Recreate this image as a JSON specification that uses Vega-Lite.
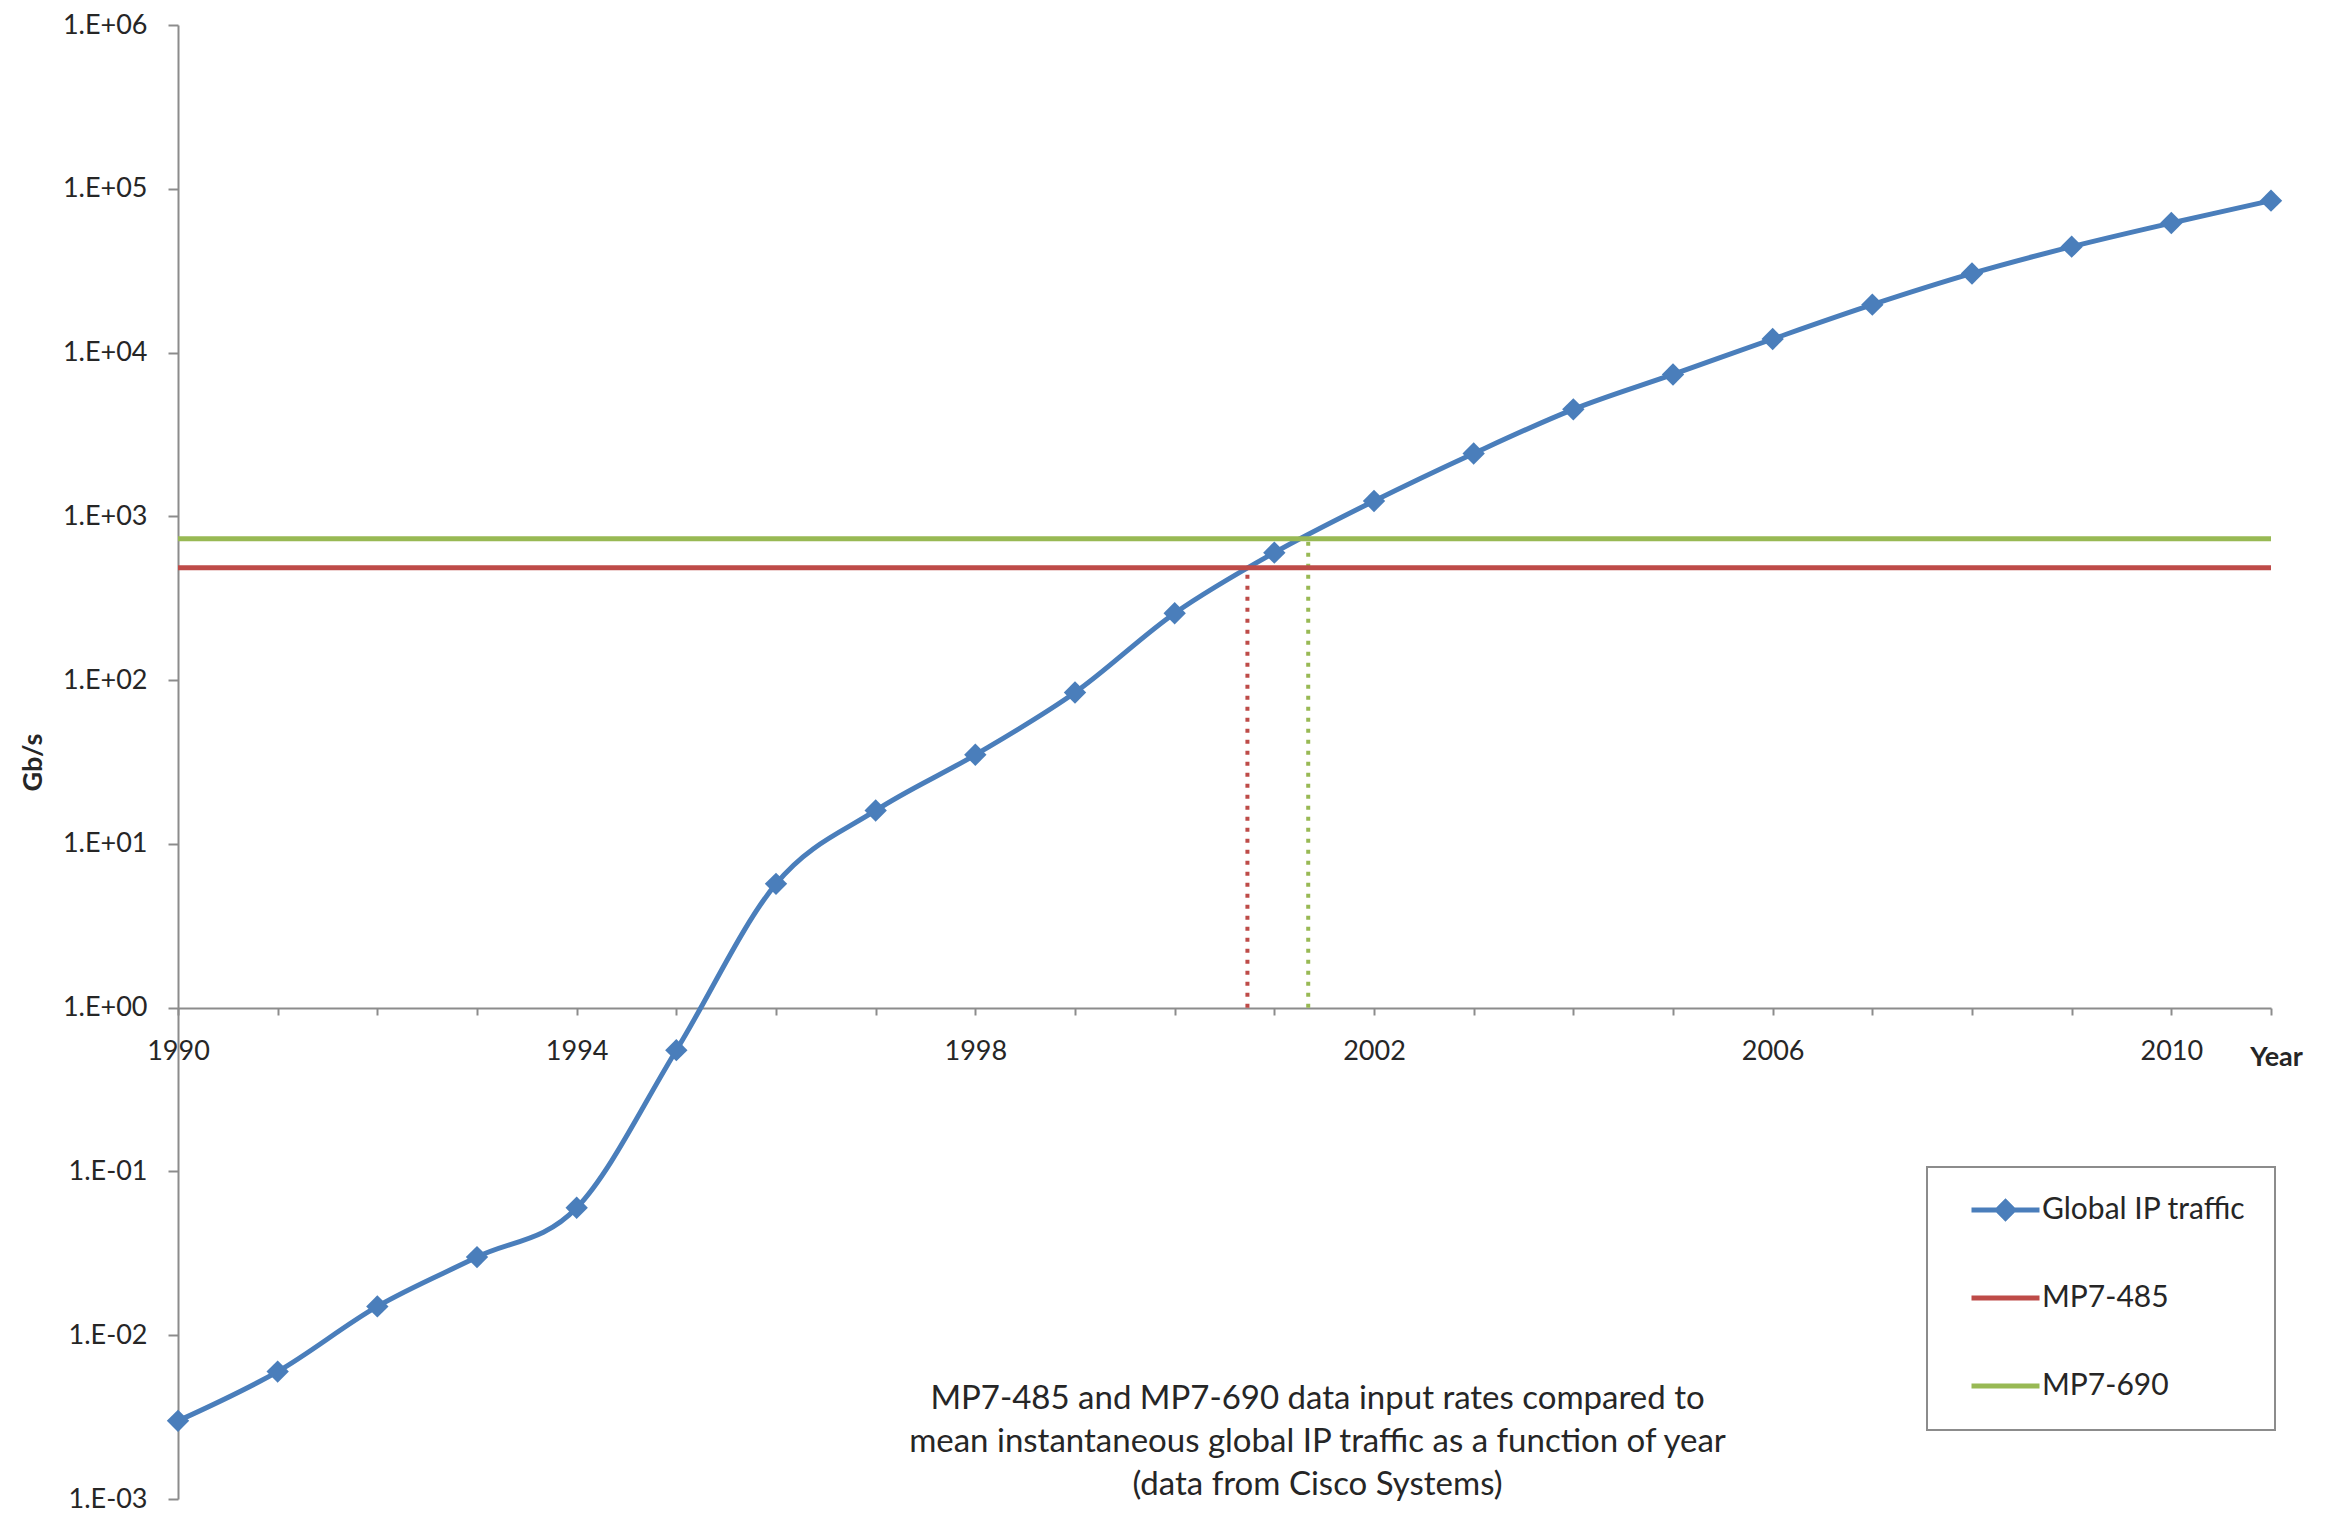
{
  "$schema": "https://vega.github.io/schema/vega-lite/v6.json",
  "width": 2093,
  "height": 1474,
  "autosize": {"type": "none"},
  "padding": {"left": 178, "top": 25, "right": 57, "bottom": 16},
  "background": "white",
  "config": {
    "font": "Lato",
    "view": {"stroke": null},
    "axis": {
      "grid": false,
      "domainColor": "#8c8c8c",
      "domainWidth": 2,
      "tickColor": "#8c8c8c",
      "tickWidth": 2,
      "labelFont": "Lato",
      "labelFontSize": 27,
      "labelColor": "#262626",
      "titleFont": "Lato",
      "titleFontSize": 27,
      "titleFontWeight": "bold",
      "titleColor": "#262626"
    }
  },
  "title": {
    "text": [
      "MP7-485 and MP7-690 data  input  rates  compared to",
      "mean instantaneous global IP traffic as a function of year",
      "(data from Cisco Systems)"
    ],
    "orient": "bottom",
    "anchor": "middle",
    "frame": "group",
    "font": "Lato",
    "fontSize": 33,
    "fontWeight": "normal",
    "lineHeight": 43,
    "color": "#262626",
    "offset": 0,
    "dx": 93,
    "dy": -129
  },
  "datasets": {
    "traffic": [
      {"series": "Global IP traffic", "year": 1990, "value": 0.003},
      {"series": "Global IP traffic", "year": 1991, "value": 0.006},
      {"series": "Global IP traffic", "year": 1992, "value": 0.015},
      {"series": "Global IP traffic", "year": 1993, "value": 0.03},
      {"series": "Global IP traffic", "year": 1994, "value": 0.06},
      {"series": "Global IP traffic", "year": 1995, "value": 0.55},
      {"series": "Global IP traffic", "year": 1996, "value": 5.7},
      {"series": "Global IP traffic", "year": 1997, "value": 16},
      {"series": "Global IP traffic", "year": 1998, "value": 35},
      {"series": "Global IP traffic", "year": 1999, "value": 84},
      {"series": "Global IP traffic", "year": 2000, "value": 256},
      {"series": "Global IP traffic", "year": 2001, "value": 600},
      {"series": "Global IP traffic", "year": 2002, "value": 1240},
      {"series": "Global IP traffic", "year": 2003, "value": 2420},
      {"series": "Global IP traffic", "year": 2004, "value": 4500},
      {"series": "Global IP traffic", "year": 2005, "value": 7350},
      {"series": "Global IP traffic", "year": 2006, "value": 12100},
      {"series": "Global IP traffic", "year": 2007, "value": 19600},
      {"series": "Global IP traffic", "year": 2008, "value": 30400},
      {"series": "Global IP traffic", "year": 2009, "value": 44300},
      {"series": "Global IP traffic", "year": 2010, "value": 61800},
      {"series": "Global IP traffic", "year": 2011, "value": 84600},
      {"series": "MP7-485", "year": 1990, "value": 485},
      {"series": "MP7-485", "year": 2011, "value": 485},
      {"series": "MP7-690", "year": 1990, "value": 730},
      {"series": "MP7-690", "year": 2011, "value": 730}
    ],
    "drops": [
      {"series": "MP7-485", "year": 2000.73, "base": 1, "value": 485},
      {"series": "MP7-690", "year": 2001.34, "base": 1, "value": 730}
    ]
  },
  "layer": [
    {
      "data": {"name": "drops"},
      "mark": {"type": "rule", "strokeDash": [4, 7], "strokeWidth": 4},
      "encoding": {
        "x": {"field": "year", "type": "quantitative", "scale": {"domain": [1990, 2011], "nice": false, "zero": false}},
        "y": {"field": "base", "type": "quantitative", "scale": {"type": "log", "domain": [0.001, 1000000], "nice": false}},
        "y2": {"field": "value"},
        "stroke": {
          "field": "series",
          "type": "nominal",
          "scale": {"domain": ["MP7-485", "MP7-690"], "range": ["#be4b48", "#98b954"]},
          "legend": null
        }
      }
    },
    {
      "data": {"name": "traffic"},
      "mark": {"type": "line", "interpolate": "cardinal", "strokeWidth": 5},
      "encoding": {
        "x": {
          "field": "year",
          "type": "quantitative",
          "scale": {"domain": [1990, 2011], "nice": false, "zero": false},
          "axis": {
            "values": [1990, 1991, 1992, 1993, 1994, 1995, 1996, 1997, 1998, 1999, 2000, 2001, 2002, 2003, 2004, 2005, 2006, 2007, 2008, 2009, 2010, 2011],
            "labelExpr": "datum.value % 4 === 2 ? format(datum.value, 'd') : ''",
            "labelFlush": false,
            "labelOverlap": false,
            "offset": -491,
            "tickSize": 7,
            "labelPadding": 23,
            "title": "Year",
            "titleX": 2098,
            "titleY": 49,
            "titleAlign": "center",
            "titleBaseline": "middle",
            "encode": {
              "ticks": {
                "update": {
                  "y": {"signal": "datum.value % 4 === 2 ? -10 : 0"},
                  "y2": {"signal": "datum.value % 4 === 2 ? 10 : 7"}
                }
              }
            }
          }
        },
        "y": {
          "field": "value",
          "type": "quantitative",
          "scale": {"type": "log", "domain": [0.001, 1000000], "nice": false},
          "axis": {
            "values": [0.001, 0.01, 0.1, 1, 10, 100, 1000, 10000, 100000, 1000000],
            "labelExpr": "'1.E' + (datum.value < 0.9 ? '-0' : '+0') + format(abs(round(log(datum.value) / LN10)), 'd')",
            "tickSize": 10,
            "labelPadding": 21,
            "labelFlush": false,
            "title": "Gb/s",
            "titleX": -145,
            "titleY": 737,
            "titleAngle": -90,
            "titleAlign": "center",
            "titleBaseline": "middle"
          }
        },
        "color": {
          "field": "series",
          "type": "nominal",
          "scale": {"domain": ["Global IP traffic", "MP7-485", "MP7-690"], "range": ["#4a7ebb", "#be4b48", "#98b954"]},
          "legend": {
            "orient": "none",
            "legendX": 1749,
            "legendY": 1142,
            "title": null,
            "padding": 29,
            "rowPadding": 58,
            "clipHeight": 28,
            "labelFont": "Lato",
            "labelFontSize": 30,
            "labelColor": "#262626",
            "labelOffset": 0,
            "labelLimit": 400,
            "symbolOffset": 13,
            "symbolSize": 4624,
            "symbolStrokeWidth": 5,
            "strokeColor": "#8c8c8c",
            "fillColor": "white",
            "encode": {
              "symbols": {
                "update": {
                  "shape": {"signal": "datum.value === 'Global IP traffic' ? 'M-1,0H1M0,-0.24L0.24,0L0,0.24L-0.24,0Z' : 'M-1,0H1'"},
                  "fill": {"signal": "scale('color', datum.value)"},
                  "stroke": {"signal": "scale('color', datum.value)"}
                }
              },
              "legend": {"update": {"strokeWidth": {"value": 2}}}
            }
          }
        }
      }
    },
    {
      "data": {"name": "traffic"},
      "transform": [{"filter": "datum.series === 'Global IP traffic'"}],
      "mark": {"type": "point", "shape": "diamond", "filled": true, "size": 500, "color": "#4a7ebb", "opacity": 1},
      "encoding": {
        "x": {"field": "year", "type": "quantitative"},
        "y": {"field": "value", "type": "quantitative"}
      }
    }
  ]
}
